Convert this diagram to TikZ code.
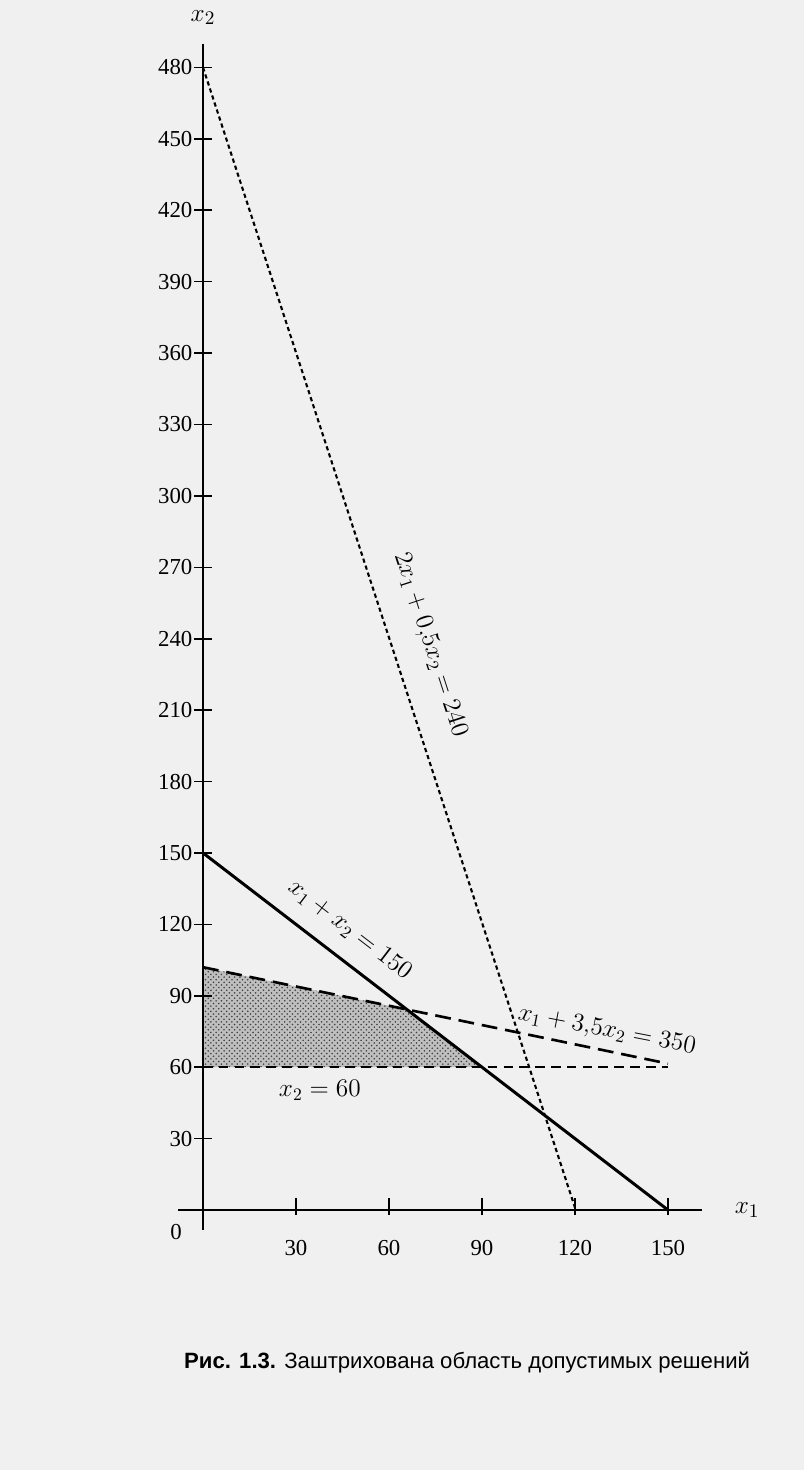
\documentclass[tikz,border=0pt]{standalone}
\usepackage{fontspec}
\setmainfont{Liberation Serif}
\newfontfamily\captionfont{Liberation Sans}
\usetikzlibrary{patterns}

\tikzset{
  axisline/.style={line width=1.1pt},
  tickmark/.style={line width=0.9pt},
  sumline/.style={line width=1.7pt},
  mixline/.style={line width=1.5pt, dash pattern=on 9pt off 4.5pt},
  lowline/.style={line width=1.4pt, dash pattern=on 5.5pt off 3.5pt},
  capline/.style={line width=1.2pt, dash pattern=on 2.4pt off 1.8pt},
  ticklabel/.style={font=\fontsize{13}{15}\selectfont, inner sep=1pt},
  eqlabel/.style={font=\fontsize{14}{16}\selectfont, inner sep=0pt},
  axislabel/.style={font=\fontsize{15}{17}\selectfont, inner sep=0pt},
}

\begin{document}
\begin{tikzpicture}[x=0.062cm, y=0.0476cm]
  % Define frame
  \fill[gray!12] (-4.06cm,-5.2cm) rectangle (12.02cm,24.2cm);
  \useasboundingbox (-4.06cm,-5.2cm) rectangle (12.02cm,24.2cm);

  % Define coordinates
  \coordinate (O) at (0,0);
  \coordinate (xstart) at (-8,0);
  \coordinate (xend) at (161,0);
  \coordinate (ystart) at (0,-8.4);
  \coordinate (yend) at (0,490);
  \coordinate (s1) at (0,150);
  \coordinate (s2) at (150,0);
  \coordinate (m1) at (0,102);
  \coordinate (m2) at (150,61.5);
  \coordinate (l1) at (0,60);
  \coordinate (l2) at (150,60);
  \coordinate (c1) at (0,480);
  \coordinate (c2) at (120,1);
  \coordinate (p1) at (intersection of s1--s2 and m1--m2);
  \coordinate (p2) at (intersection of s1--s2 and l1--l2);

  % Shade feasible region
  \fill[gray!50] (l1) -- (m1) -- (p1) -- (p2) -- cycle;
  \fill[pattern=crosshatch dots, pattern color=black!75] (l1) -- (m1) -- (p1) -- (p2) -- cycle;

  % Draw axes
  \draw[axisline] (xstart) -- (xend);
  \draw[axisline] (ystart) -- (yend);
  \foreach \v in {30,60,...,480} {
    \draw[tickmark] ([xshift=-0.18cm]0,\v) -- ([xshift=0.18cm]0,\v);
    \node[ticklabel, anchor=east] (ylab\v) at ([xshift=-0.17cm]0,\v) {\v};
  }
  \foreach \v in {30,60,...,150} {
    \draw[tickmark] ([yshift=-0.1cm]\v,0) -- ([yshift=0.24cm]\v,0);
    \node[ticklabel] (xlab\v) at ([yshift=-0.76cm]\v,0) {\v};
  }

  % Draw constraints
  \draw[capline] (c1) -- (c2);
  \draw[sumline] (s1) -- (s2);
  \draw[mixline] (m1) -- (m2);
  \draw[lowline] (l1) -- (l2);

  % Labels
  \node[axislabel] (xtwo) at ([yshift=0.52cm]yend) {$x_2$};
  \node[axislabel] (xone) at ([xshift=0.9cm]xend) {$x_1$};
  \node[ticklabel] (zero) at (-8.7,-9.2) {0};
  \node[eqlabel, rotate=-37.5] (sumlab) at (47.4,117.6) {$x_1 + x_2 = 150$};
  \node[eqlabel, rotate=-11] (mixlab) at (130.3,75.3) {$x_1 + 3{,}5x_2 = 350$};
  \node[eqlabel] (lowlab) at (37.7,50.4) {$x_2 = 60$};
  \node[eqlabel, rotate=-72] (caplab) at (73.2,237.4) {$2x_1 + 0{,}5x_2 = 240$};
  \node[font=\captionfont\fontsize{12.6}{15}\selectfont] (caption) at (85.2,-63.9)
    {\textbf{Рис. 1.3.} Заштрихована область допустимых решений};
\end{tikzpicture}
\end{document}
